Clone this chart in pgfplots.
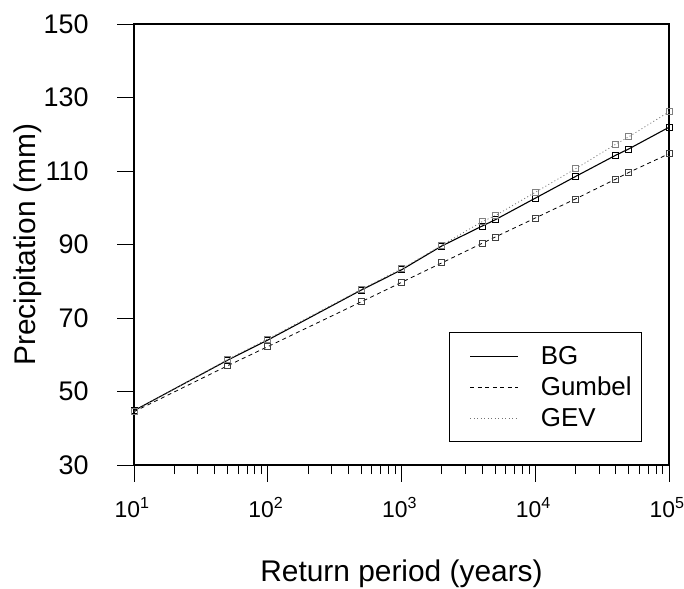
\documentclass[border=0pt]{standalone}
\usepackage{pgfplots}
\pgfplotsset{compat=1.18}
\usepackage{fontspec}
\setmainfont{Liberation Sans}
\begin{document}
\begin{tikzpicture}
\useasboundingbox (-134bp,-124bp) rectangle (550bp,465bp);
\begin{axis}[
  at={(0,0)}, anchor=south west,
  scale only axis, width=535bp, height=441bp,
  xmode=log, xmin=10, xmax=100000,
  ymin=30, ymax=150,
  ytick={30,50,70,90,110,130,150},
  xtick={10,100,1000,10000,100000},
  xticklabels={10\textsuperscript{1},10\textsuperscript{2},10\textsuperscript{3},10\textsuperscript{4},10\textsuperscript{5}},
  /pgf/number format/assume math mode=true,
  tick align=outside, tick pos=left,
  major tick length=17bp, minor tick length=9bp,
  every tick/.style={black, line width=0.8bp},
  axis line style={line width=1.1bp},
  yticklabel style={font=\fontsize{27}{31}\selectfont, xshift=-25bp},
  xticklabel style={font=\fontsize{23}{27}\selectfont, yshift=-12bp, xshift=-2bp},
  xlabel={Return period (years)},
  ylabel={Precipitation (mm)},
  label style={font=\fontsize{30}{34}\selectfont},
  xlabel style={at={(axis description cs:0.5,0)}, anchor=center, yshift=-109bp},
  ylabel style={at={(axis description cs:0,0.5)}, anchor=center, yshift=106bp},
  legend style={at={(0.9495,0.0515)}, anchor=south east, draw=black, line width=0.8bp,
    font=\fontsize{26}{30}\selectfont, inner xsep=8bp, inner ysep=12bp,
    row sep=7bp, cells={anchor=west}},
  legend image code/.code={\draw[#1,mark=none] (0bp,0bp) -- (48bp,0bp); \path (-12bp,0bp) (68bp,0bp);},
  legend cell align=left,
]
\addplot[black, line width=1.1bp, mark=square, mark size=3bp, mark options={solid, line width=0.8bp, black}] coordinates {
(10,44.8) (50,58.5) (100,64.0) (500,77.6) (1000,83.1) (2000,89.6) (4000,95.0) (5000,96.7) (10000,102.6) (20000,108.5) (40000,114.3) (50000,116.0) (100000,121.9)};
\addlegendentry{BG}
\addplot[black, line width=0.8bp, dash pattern=on 4bp off 3.5bp, mark=square, mark size=3bp, mark options={solid, line width=0.8bp, black!75}] coordinates {
(10,44.5) (50,57.0) (100,62.2) (500,74.4) (1000,79.7) (2000,85.0) (4000,90.3) (5000,92.0) (10000,97.2) (20000,102.4) (40000,107.8) (50000,109.6) (100000,114.7)};
\addlegendentry{Gumbel}
\addplot[black!55, line width=0.8bp, dash pattern=on 1bp off 2.5bp, mark=square, mark size=3bp, mark options={solid, line width=0.8bp, black!50}] coordinates {
(10,44.6) (50,58.7) (100,64.3) (500,77.8) (1000,83.4) (2000,89.8) (4000,96.2) (5000,97.8) (10000,104.2) (20000,110.6) (40000,117.3) (50000,119.3) (100000,126.1)};
\addlegendentry{GEV}
\end{axis}
\end{tikzpicture}
\end{document}
